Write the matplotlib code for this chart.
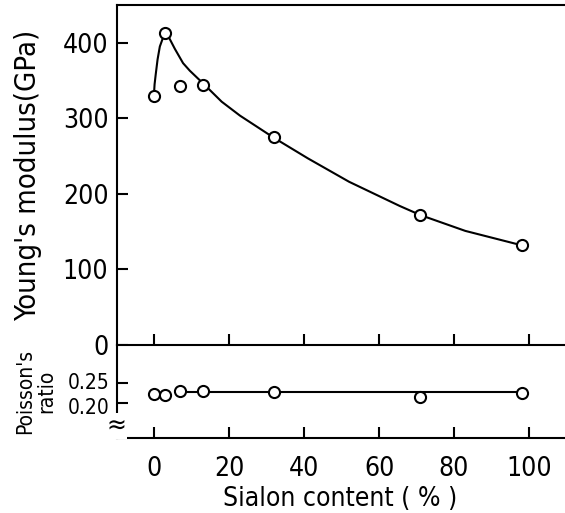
import matplotlib
matplotlib.use("Agg")
import matplotlib.pyplot as plt
import matplotlib.transforms as mtransforms

plt.rcParams["font.family"] = ["DejaVu Sans"]
plt.rcParams["font.stretch"] = "condensed"

# measured points
sialon = [0, 3, 7, 13, 32, 71, 98]
youngs = [330, 413, 343, 344, 275, 172, 132]
poisson = [0.222, 0.219, 0.230, 0.229, 0.228, 0.216, 0.225]

# hand drawn curves
youngs_fit_x = [0, 0.1, 0.4, 0.9, 1.5, 2.3, 3.3, 5.5, 7.7, 9.5, 13.5, 18, 22.9, 32, 41, 52, 65.5, 71, 83, 98]
youngs_fit_y = [337, 345, 358, 378, 395, 406, 413, 392, 373, 363, 344, 322, 303.5, 274, 247, 216, 184, 172, 151, 132]
poisson_fit_x = [7, 98]
poisson_fit_y = [0.228, 0.228]

fig = plt.figure(figsize=(5.65, 5.13), dpi=100)
ax1 = fig.add_axes([0.2066, 0.3275, 0.7914, 0.6628])
ax2 = fig.add_axes([0.2066, 0.1462, 0.7914, 0.1813])

ax1.plot(youngs_fit_x, youngs_fit_y, "k-", lw=1.5, zorder=2)
ax1.plot(sialon, youngs, "o", ms=8, mfc="white", mec="black", mew=1.5, zorder=3)
ax2.plot(poisson_fit_x, poisson_fit_y, "k-", lw=1.5, zorder=2)
ax2.plot(sialon, poisson, "o", ms=8, mfc="white", mec="black", mew=1.5, zorder=3)

for ax in (ax1, ax2):
    ax.set_xlim(-10, 109.3)
    ax.set_xticks([0, 20, 40, 60, 80, 100])
    ax.spines["right"].set_visible(False)
    for s in ax.spines.values():
        s.set_linewidth(1.5)
    ax.tick_params(direction="in", length=8, width=1.5, labelsize=19, pad=6)

ax1.set_ylim(0, 450)
ax1.set_yticks([0, 100, 200, 300, 400])
ax1.tick_params(axis="x", labelbottom=False)
ax1.spines["bottom"].set_visible(False)
ax1.set_ylabel("Young's modulus(GPa)", fontsize=21)
ax1.yaxis.set_label_coords(-0.167, 0.5)

ax2.set_ylim(0.109, 0.349)
ax2.set_yticks([0.20, 0.25])
ax2.set_yticklabels(["0.20", "0.25"])
ax2.tick_params(axis="y", labelsize=15, pad=5)
ax2.tick_params(axis="x", pad=13)
# nudge the two crowded labels apart a little
for lab, dy in zip(ax2.get_yticklabels(), [-2, 2]):
    lab.set_transform(lab.get_transform() +
                      mtransforms.ScaledTranslation(0, dy / 72, fig.dpi_scale_trans))
ax2.set_xlabel("Sialon content ( % )", fontsize=19, labelpad=3)
ax2.set_ylabel("Poisson's\nratio", fontsize=15, linespacing=1.05)
ax2.yaxis.set_label_coords(-0.136, 0.5)

# axis break mark
ax2.text(-10, 0.141, "≈", fontsize=19, ha="center", va="center",
         bbox=dict(fc="white", ec="none", pad=0))

plt.savefig("out.png", dpi=100)
